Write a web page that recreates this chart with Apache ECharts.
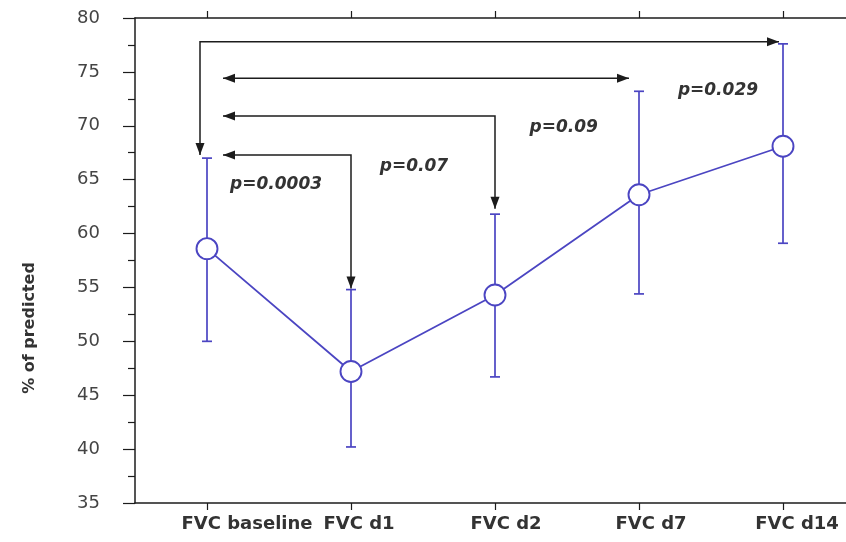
<!DOCTYPE html>
<html><head><meta charset="utf-8">
<script src="https://cdn.jsdelivr.net/npm/echarts@6/dist/echarts.min.js"></script>
<style>html,body{margin:0;padding:0;background:#fff}#c{width:846px;height:542px}</style>
</head><body><div id="c"></div>
<script>
// ---- data ----
const categories = ['FVC baseline', 'FVC d1', 'FVC d2', 'FVC d7', 'FVC d14'];
const meanValues = [58.6, 47.2, 54.3, 63.6, 68.1];
const upperValues = [67.0, 54.8, 61.8, 73.2, 77.6];
const lowerValues = [50.0, 40.2, 46.7, 54.4, 59.1];
const yMin = 35, yMax = 80, yStep = 5;
const yAxisTitle = '% of predicted';
const pLabels = ['p=0.0003', 'p=0.07', 'p=0.09', 'p=0.029'];
// label anchors in data space (category position, value)
const pLabelAnchors = [[0.16, 64.5], [1.2, 66.2], [2.24, 69.8], [3.27, 73.3]];
// comparison arrows in data space (category position, value), arrowheads at both ends
const comparisonArrows = [
  [[0, 67.3], [1, 67.3], [1, 54.9]],
  [[0, 70.9], [2, 70.9], [2, 62.3]],
  [[0, 74.4], [3, 74.4]],
  [[0, 67.3], [0, 77.8], [4, 77.8]]
];

// ---- styles ----
const arrowPixelShift = [[16, 0, 0], [16, 0, 0], [16, -10], [-7, -7, -4]];
const labelShiftPx = [40, 8, 11, 12, 14];
const blue = '#4b45c2';
const ink = '#1c1c1c';
const FONT = '"DejaVu Sans", sans-serif';

const chart = echarts.init(document.getElementById('c'), null, {renderer: 'canvas'});

function arrowHead(tip, from, L, W) {
  const dx = tip[0] - from[0], dy = tip[1] - from[1];
  const len = Math.hypot(dx, dy) || 1;
  const ux = dx / len, uy = dy / len;
  const nx = -uy, ny = ux;
  const bx = tip[0] - ux * L, by = tip[1] - uy * L;
  return {
    type: 'polygon',
    shape: {points: [tip, [bx + nx * W / 2, by + ny * W / 2], [bx - nx * W / 2, by - ny * W / 2]]},
    style: {fill: ink}
  };
}

const categoryItems = categories.map((c, i) => ({
  value: c,
  textStyle: {padding: [0, 0, 0, labelShiftPx[i] * 2]}
}));

const option = {
  animation: false,
  backgroundColor: '#fff',
  grid: {left: 135, top: 18, width: 720, height: 485, outerBoundsMode: 'none', containLabel: false},
  xAxis: [
    {
      type: 'category', data: categoryItems, position: 'bottom', boundaryGap: true,
      axisLine: {onZero: false, lineStyle: {color: ink, width: 1.5}},
      axisTick: {show: true, interval: 0, alignWithLabel: true, length: 7, lineStyle: {color: ink, width: 1.2}},
      axisLabel: {interval: 0, color: '#333', fontFamily: FONT, fontWeight: 'bold', fontSize: 18, margin: 12},
      splitLine: {show: false}
    },
    {
      type: 'category', data: categories, position: 'top', boundaryGap: true,
      axisLine: {show: true, onZero: false, lineStyle: {color: ink, width: 1.5}},
      axisTick: {show: true, interval: 0, alignWithLabel: true, inside: false, length: 7, lineStyle: {color: ink, width: 1.2}},
      axisLabel: {show: true, interval: 0, color: 'rgba(0,0,0,0)', fontSize: 1},
      splitLine: {show: false}
    },
    {type: 'value', min: -0.5, max: 4.5, show: false}
  ],
  yAxis: {
    type: 'value', min: yMin, max: yMax, interval: yStep,
    axisLine: {show: true, onZero: false, lineStyle: {color: ink, width: 1.5}},
    axisTick: {show: true, length: 12, lineStyle: {color: ink, width: 1.2}},
    minorTick: {show: true, splitNumber: 2, length: 7, lineStyle: {color: ink, width: 1.2}},
    axisLabel: {color: '#444', fontFamily: FONT, fontSize: 18, margin: 35},
    splitLine: {show: false}
  },
  graphic: [{
    type: 'text', x: 30, y: 328, rotation: Math.PI / 2,
    style: {text: yAxisTitle, fill: '#333', font: 'bold 16px ' + FONT, align: 'center', verticalAlign: 'middle'}
  }],
  series: [
    {
      type: 'custom', xAxisIndex: 0, z: 2,
      data: categories.map((c, i) => [i, lowerValues[i], upperValues[i]]),
      renderItem: function (params, api) {
        const lo = api.coord([api.value(0), api.value(1)]);
        const hi = api.coord([api.value(0), api.value(2)]);
        const w = 5;
        const ls = {stroke: blue, lineWidth: 1.7};
        return {
          type: 'group', children: [
            {type: 'line', shape: {x1: lo[0], y1: lo[1], x2: hi[0], y2: hi[1]}, style: ls},
            {type: 'line', shape: {x1: lo[0] - w, y1: lo[1], x2: lo[0] + w, y2: lo[1]}, style: ls},
            {type: 'line', shape: {x1: hi[0] - w, y1: hi[1], x2: hi[0] + w, y2: hi[1]}, style: ls}
          ]
        };
      }
    },
    {
      type: 'line', xAxisIndex: 0, z: 3, data: meanValues,
      symbol: 'circle', symbolSize: 21,
      lineStyle: {color: blue, width: 1.8},
      itemStyle: {color: '#fff', borderColor: blue, borderWidth: 1.9}
    },
    {
      type: 'custom', xAxisIndex: 2, z: 4,
      data: comparisonArrows.map(p => p[0]),
      renderItem: function (params, api) {
        const path = comparisonArrows[params.dataIndex];
        const shift = arrowPixelShift[params.dataIndex];
        const pts = path.map((p, k) => {
          const c = api.coord(p);
          return [c[0] + (shift[k] || 0), c[1]];
        });
        const n = pts.length;
        return {
          type: 'group', children: [
            {type: 'polyline', shape: {points: pts}, style: {stroke: ink, lineWidth: 1.5, fill: null}},
            arrowHead(pts[0], pts[1], 12, 9),
            arrowHead(pts[n - 1], pts[n - 2], 12, 9)
          ]
        };
      }
    },
    {
      type: 'custom', xAxisIndex: 2, z: 5,
      data: pLabelAnchors,
      renderItem: function (params, api) {
        const c = api.coord([api.value(0), api.value(1)]);
        return {
          type: 'text', x: c[0], y: c[1],
          style: {
            text: pLabels[params.dataIndex], fill: '#333',
            font: 'italic bold 17px ' + FONT, align: 'left', verticalAlign: 'middle'
          }
        };
      }
    }
  ]
};
chart.setOption(option);
</script>
</body></html>
